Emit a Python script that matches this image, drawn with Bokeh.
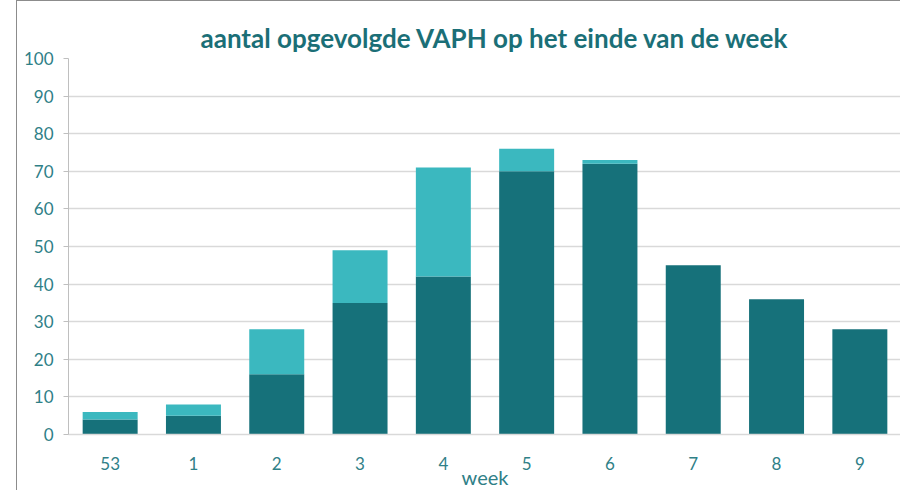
from bokeh.plotting import figure
from bokeh.models import ColumnDataSource, Range1d, FixedTicker
from bokeh.embed import file_html
from bokeh.resources import INLINE

weeks = ["53", "1", "2", "3", "4", "5", "6", "7", "8", "9"]
dark_values = [4, 5, 16, 35, 42, 70, 72, 45, 36, 28]
light_values = [2, 3, 12, 14, 29, 6, 1, 0, 0, 0]
y_ticks = [0, 10, 20, 30, 40, 50, 60, 70, 80, 90, 100]
x_title = "week"

source = ColumnDataSource(data=dict(week=weeks, dark=dark_values, light=light_values))

TEXT = "#2F8087"
FONT = "Lato"

p = figure(x_range=weeks, y_range=Range1d(0, 100), width=884, height=490,
           output_backend="svg", toolbar_location=None,
           min_border_left=51, min_border_right=0, min_border_top=57, min_border_bottom=51,
           title="aantal opgevolgde VAPH op het einde van de week")
p.margin = (0, 0, 0, 16)
p.styles = {"border-left": "1px solid #8c8c8c", "border-top": "1px solid #8c8c8c"}

p.vbar_stack(["dark", "light"], x="week", width=0.66, source=source,
             color=["#16717A", "#3BB8BF"], line_color=None)

p.title.align = "left"
p.title.offset = 132
p.title.text_font = FONT
p.title.text_font_size = "26px"
p.title.text_color = "#1B6F77"
p.title.text_font_style = "bold"

p.outline_line_color = None
p.xgrid.grid_line_color = None
p.ygrid.grid_line_color = "#d9d9d9"
p.ygrid.grid_line_width = 1.5
p.yaxis.ticker = FixedTicker(ticks=y_ticks)

p.yaxis.axis_line_color = "#bfbfbf"
p.yaxis.major_tick_line_color = "#bfbfbf"
p.yaxis.major_tick_out = 5
p.yaxis.major_tick_in = 0
p.yaxis.minor_tick_line_color = None
p.yaxis.major_label_text_font = FONT
p.yaxis.major_label_text_font_size = "17px"
p.yaxis.major_label_text_color = TEXT
p.yaxis.major_label_standoff = 10

p.xaxis.axis_line_color = "#d9d9d9"
p.xaxis.axis_line_width = 1.5
p.xaxis.major_tick_line_color = None
p.xaxis.minor_tick_line_color = None
p.xaxis.major_label_text_font = FONT
p.xaxis.major_label_text_font_size = "17px"
p.xaxis.major_label_text_color = TEXT
p.xaxis.major_label_standoff = 16
p.xaxis.axis_label = x_title
p.xaxis.axis_label_text_font = FONT
p.xaxis.axis_label_text_font_size = "20px"
p.xaxis.axis_label_text_font_style = "normal"
p.xaxis.axis_label_text_color = TEXT
p.xaxis.axis_label_standoff = -8

open("out.html", "w").write(file_html(p, INLINE))
